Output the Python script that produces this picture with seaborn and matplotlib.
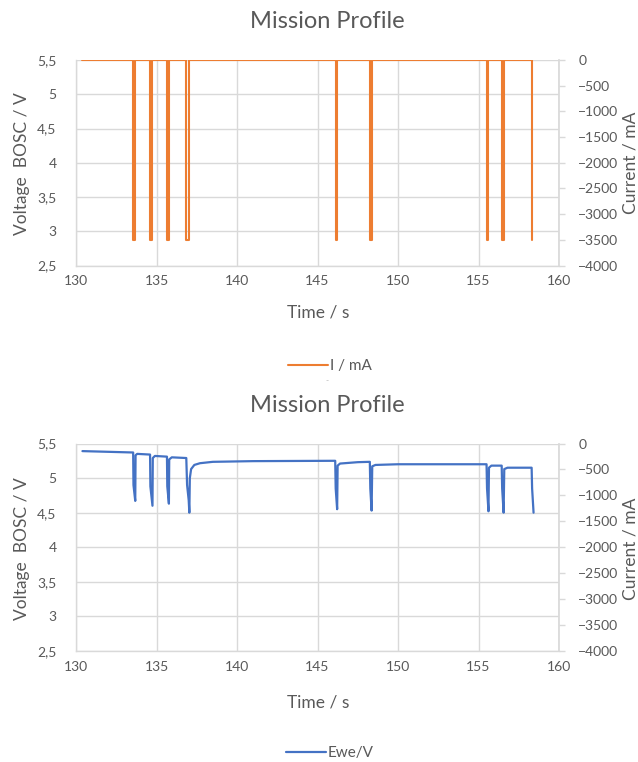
import numpy as np
import pandas as pd
import matplotlib
matplotlib.use("Agg")
import matplotlib.pyplot as plt
import seaborn as sns

# ------------------------
# DATA
# ------------------------

# current profile I / mA (upper chart, right axis)
cur_time = [130.4, 133.56, 133.56, 133.67, 133.67, 134.61, 134.61, 134.73, 134.73,
            135.66, 135.66, 135.77, 135.77, 136.86, 136.86, 137.03, 137.03,
            146.13, 146.13, 146.24, 146.24, 148.26, 148.26, 148.37, 148.37,
            155.51, 155.51, 155.62, 155.62, 156.45, 156.45, 156.56, 156.56,
            158.32, 158.32]
cur_ma = [0, 0, -3500, -3500, 0, 0, -3500, -3500, 0,
          0, -3500, -3500, 0, 0, -3500, -3500, 0,
          0, -3500, -3500, 0, 0, -3500, -3500, 0,
          0, -3500, -3500, 0, 0, -3500, -3500, 0,
          0, -3500]

# cell voltage Ewe/V (lower chart, left axis)
volt_time = [130.4, 133.55, 133.57, 133.68, 133.7, 133.8, 134.6, 134.62, 134.75, 134.77,
             134.9, 135.65, 135.67, 135.77, 135.79, 135.95, 136.85, 136.9, 137.0, 137.04,
             137.07, 137.15, 137.35, 137.7, 138.5, 141.0, 146.1, 146.13, 146.22, 146.25,
             146.4, 147.5, 148.25, 148.28, 148.36, 148.4, 148.6, 150.0, 155.5, 155.53,
             155.62, 155.65, 155.8, 156.44, 156.47, 156.56, 156.6, 156.8, 158.3, 158.33,
             158.42]
volt_v = [5.39, 5.37, 4.9, 4.67, 5.33, 5.35, 5.34, 4.88, 4.60, 5.29,
          5.32, 5.31, 4.88, 4.63, 5.27, 5.30, 5.29, 4.9, 4.68, 4.50,
          5.0, 5.13, 5.19, 5.215, 5.235, 5.245, 5.25, 4.85, 4.55, 5.18,
          5.21, 5.23, 5.235, 4.85, 4.53, 5.17, 5.19, 5.20, 5.20, 4.85,
          4.52, 5.15, 5.18, 5.18, 4.85, 4.50, 5.13, 5.15, 5.15, 4.85,
          4.50]

x_ticks = [130, 135, 140, 145, 150, 155, 160]
v_ticks = [2.5, 3, 3.5, 4, 4.5, 5, 5.5]
v_tick_labels = ["2,5", "3", "3,5", "4", "4,5", "5", "5,5"]
i_ticks = [-4000, -3500, -3000, -2500, -2000, -1500, -1000, -500, 0]

# ------------------------
# STYLE
# ------------------------

sns.set_theme(style="white")
plt.rcParams["font.family"] = ["Lato", "DejaVu Sans"]

TEXT = "#595959"
GRID = "#d9d9d9"
ORANGE = "#ed7d31"
BLUE = "#4472c4"

W, H = 638, 762
fig = plt.figure(figsize=(W / 100, H / 100), dpi=100)


def fx(px):
    return px / W


def fy(py):
    return 1 - py / H


def style_axes(ax, ax2):
    ax.set_xlim(130, 160)
    ax.set_ylim(2.5, 5.5)
    ax.set_xticks(x_ticks)
    ax.set_yticks(v_ticks, labels=v_tick_labels)
    ax.grid(True, color=GRID, linewidth=1)
    ax.tick_params(axis="both", length=0, labelsize=10, labelcolor=TEXT, pad=7)
    ax.tick_params(axis="y", pad=14)
    for side in ["top", "right"]:
        ax.spines[side].set_visible(False)
    for side in ["left", "bottom"]:
        ax.spines[side].set_color(GRID)
        ax.spines[side].set_linewidth(1)
    ax.set_xlabel("")
    ax.set_ylabel("")

    ax2.set_ylim(-4000, 0)
    ax2.set_yticks(i_ticks)
    ax2.grid(False)
    ax2.tick_params(axis="y", length=4, width=1, color=GRID, labelsize=10,
                    labelcolor=TEXT, pad=10)
    for side in ["top", "left", "bottom"]:
        ax2.spines[side].set_visible(False)
    ax2.spines["right"].set_color(GRID)
    ax2.set_xlabel("")
    ax2.set_ylabel("")


def add_texts(top_px, bottom_px, xlabel_px, legend_px, handle, label):
    fig.text(fx(327), fy(top_px), "Mission Profile", ha="center", va="center",
             fontsize=17, color=TEXT)
    mid = (top_px + 40 + bottom_px) / 2
    fig.text(fx(22), fy(mid), "Voltage  BOSC / V", rotation=90, ha="center",
             va="center", fontsize=12.5, color=TEXT)
    fig.text(fx(630), fy(mid), "Current / mA", rotation=90, ha="center",
             va="center", fontsize=12.5, color=TEXT)
    fig.text(fx(318), fy(xlabel_px), "Time / s", ha="center", va="center",
             fontsize=12.5, color=TEXT)
    fig.legend([handle], [label], loc="center", bbox_to_anchor=(fx(330), fy(legend_px)),
               frameon=False, fontsize=11, handlelength=2.6, handletextpad=0.1,
               labelcolor=TEXT)


# ------------------------
# UPPER CHART: CURRENT
# ------------------------

ax_top = fig.add_axes([fx(76), fy(265.5), fx(559 - 76), (265.5 - 60) / H])
ax_top2 = ax_top.twinx()
df_cur = pd.DataFrame({"Time": cur_time, "Current": cur_ma})
sns.lineplot(data=df_cur, x="Time", y="Current", ax=ax_top2, sort=False,
             estimator=None, color=ORANGE, linewidth=1.5)
style_axes(ax_top, ax_top2)
add_texts(21, 265.5, 313, 366, ax_top2.lines[0], "I / mA")
fig.text(fx(327), fy(381), "-", ha="center", va="center", fontsize=6, color="#b0b0b0")

# ------------------------
# LOWER CHART: VOLTAGE
# ------------------------

ax_bot = fig.add_axes([fx(76), fy(651), fx(559 - 76), (651 - 443.5) / H])
ax_bot2 = ax_bot.twinx()
df_volt = pd.DataFrame({"Time": volt_time, "Voltage": volt_v})
sns.lineplot(data=df_volt, x="Time", y="Voltage", ax=ax_bot, sort=False,
             estimator=None, color=BLUE, linewidth=1.6)
style_axes(ax_bot, ax_bot2)
add_texts(406, 651, 703, 753, ax_bot.lines[0], "Ewe/V")

fig.savefig("out.png", dpi=100, facecolor="white")
